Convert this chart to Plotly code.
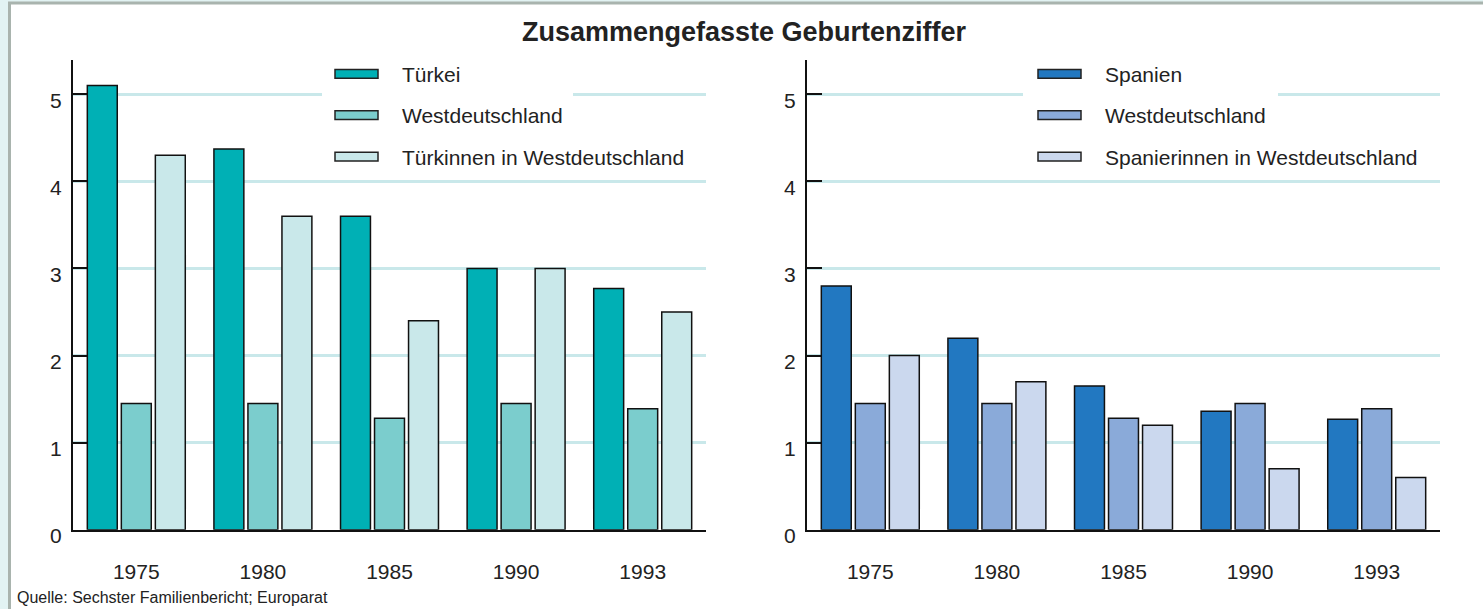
import plotly.graph_objects as go

W, H = 1483, 609

years = ["1975", "1980", "1985", "1990", "1993"]

tuerkei = [5.1, 4.37, 3.6, 3.0, 2.77]
westdeutschland = [1.45, 1.45, 1.28, 1.45, 1.39]
tuerkinnen = [4.3, 3.6, 2.4, 3.0, 2.5]

spanien = [2.8, 2.2, 1.65, 1.36, 1.27]
spanierinnen = [2.0, 1.7, 1.2, 0.7, 0.6]

left_names = ["Türkei", "Westdeutschland", "Türkinnen in Westdeutschland"]
right_names = ["Spanien", "Westdeutschland", "Spanierinnen in Westdeutschland"]
left_colors = ["#00b0b5", "#7bcdcd", "#c9e8ea"]
right_colors = ["#2278c1", "#8aaad9", "#cbd8ee"]

y_ticks = [0, 1, 2, 3, 4, 5]

FONT = "Liberation Sans, Arial, sans-serif"


def px(x):
    return x / W


def py(y):
    return (H - y) / H


fig = go.Figure()

left_series = [tuerkei, westdeutschland, tuerkinnen]
right_series = [spanien, westdeutschland, spanierinnen]

for name, vals, col in zip(left_names, left_series, left_colors):
    fig.add_trace(go.Bar(x=years, y=vals, name=name, marker=dict(color=col, line=dict(color="#111", width=1.5)),
                         xaxis="x", yaxis="y", showlegend=False, offsetgroup=name))
for name, vals, col in zip(right_names, right_series, right_colors):
    fig.add_trace(go.Bar(x=years, y=vals, name=name, marker=dict(color=col, line=dict(color="#111", width=1.5)),
                         xaxis="x2", yaxis="y2", showlegend=False, offsetgroup="r" + name))

ydom = [py(545), py(62)]
axis_common_y = dict(range=[0, 5.39], tickvals=y_ticks, ticks="inside", ticklen=15, tickwidth=2,
                     tickcolor="#111", showline=True, linecolor="#111", linewidth=2,
                     showgrid=True, gridcolor="#c9e8ea", gridwidth=3, zeroline=False,
                     tickfont=dict(family=FONT, size=21, color="#222"), ticklabelstandoff=5,
                     ticklabelshift=6, domain=ydom, fixedrange=True)
axis_common_x = dict(showline=True, linecolor="#111", linewidth=2, ticks="outside", ticklen=1,
                     tickcolor="rgba(0,0,0,0)", showgrid=False,
                     tickfont=dict(family=FONT, size=21, color="#222"), ticklabelstandoff=21,
                     type="category", range=[-0.5, 4.5], fixedrange=True)

shapes = []
annotations = []

shapes.append(dict(type="rect", xref="paper", yref="paper", x0=px(9.5), x1=1.05, y0=-0.05, y1=py(3),
                   fillcolor="white", line=dict(color="#a9b4ae", width=3), layer="below"))

for x0, x1 in [(322, 573), (1023, 1278)]:
    shapes.append(dict(type="rect", xref="paper", yref="paper", x0=px(x0), x1=px(x1), y0=py(172), y1=py(62),
                       fillcolor="white", line=dict(width=0), layer="above"))

leg_y = [76, 118.5, 161]
for names, cols, sx0, tx in [(left_names, left_colors, 335, 400), (right_names, right_colors, 1038, 1103)]:
    for name, col, yy in zip(names, cols, leg_y):
        shapes.append(dict(type="rect", xref="paper", yref="paper", x0=px(sx0), x1=px(sx0 + 43),
                           y0=py(yy + 4.5), y1=py(yy - 4.5), fillcolor=col,
                           line=dict(color="#222", width=1.5), layer="above"))
        annotations.append(dict(xref="paper", yref="paper", x=px(tx), y=py(yy + 0.7), text=name, showarrow=False,
                                xanchor="left", yanchor="middle",
                                font=dict(family=FONT, size=21, color="#222")))

annotations.append(dict(xref="paper", yref="paper", x=px(745), y=py(33), text="<b>Zusammengefasste Geburtenziffer</b>",
                        showarrow=False, xanchor="center", yanchor="middle",
                        font=dict(family=FONT, size=27, color="#222")))

fig.update_layout(
    width=W, height=H,
    margin=dict(l=0, r=0, t=0, b=0),
    paper_bgcolor="#e2f3f3",
    plot_bgcolor="rgba(0,0,0,0)",
    barmode="group",
    bargap=0.194,
    bargroupgap=0.12,
    title=dict(text="Quelle: Sechster Familienbericht; Europarat", xref="container", yref="container",
               x=px(17), xanchor="left", y=(H - 597.5) / H, yanchor="middle",
               font=dict(family=FONT, size=16, color="#222")),
    xaxis=dict(domain=[px(73), px(706)], anchor="y", **axis_common_x),
    yaxis=dict(anchor="x", **axis_common_y),
    xaxis2=dict(domain=[px(807), px(1440)], anchor="y2", **axis_common_x),
    yaxis2=dict(anchor="x2", **axis_common_y),
    shapes=shapes,
    annotations=annotations,
    showlegend=False,
)

fig.write_html("out.html", post_script="document.body.style.margin='0';", config={"displayModeBar": False})
